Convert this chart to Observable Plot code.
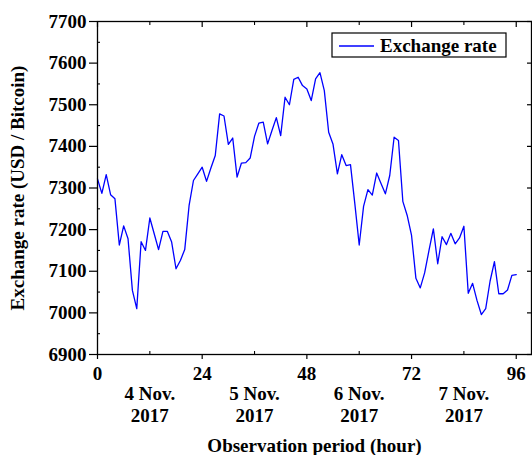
<!DOCTYPE html>
<html><head><meta charset="utf-8">
<script src="https://cdn.jsdelivr.net/npm/d3@7"></script>
<script src="https://cdn.jsdelivr.net/npm/@observablehq/plot@0.6"></script>
<style>
body{margin:0;background:#fff;}
#chart svg{display:block;}
</style>
</head><body><div id="chart"></div>
<script>
// Hourly exchange rate (USD / Bitcoin), hours 0..96
const rates = [
  7322, 7287, 7332, 7284, 7274, 7163, 7209, 7178, 7054, 7010,
  7171, 7150, 7228, 7190, 7152, 7196, 7196, 7170, 7106, 7126,
  7152, 7258, 7318, 7334, 7350, 7316, 7348, 7378, 7478, 7473,
  7405, 7420, 7326, 7360, 7361, 7372, 7424, 7456, 7458, 7406,
  7438, 7469, 7426, 7518, 7500, 7561, 7566, 7546, 7538, 7510,
  7562, 7577, 7534, 7434, 7405, 7334, 7380, 7354, 7356, 7262,
  7163, 7256, 7296, 7283, 7336, 7311, 7286, 7330, 7422, 7414,
  7268, 7234, 7186, 7083, 7060, 7096, 7150, 7202, 7118, 7183,
  7164, 7191, 7166, 7180, 7208, 7047, 7071, 7030, 6996, 7010,
  7076, 7123, 7046, 7046, 7055, 7090, 7092
];
const xTicks = [0, 24, 48, 72, 96];
const xMinorTicks = [12, 36, 60, 84];
const yTicks = [6900, 7000, 7100, 7200, 7300, 7400, 7500, 7600, 7700];
const yMinorTicks = [6950, 7050, 7150, 7250, 7350, 7450, 7550, 7650];
const dayCenters = [12, 36, 60, 84];
const dayLabels = ["4 Nov.\n2017", "5 Nov.\n2017", "6 Nov.\n2017", "7 Nov.\n2017"];
const seriesName = "Exchange rate";
const xTitle = "Observation period (hour)";
const yTitle = "Exchange rate (USD / Bitcoin)";

const data = rates.map((r, i) => ({hour: i, rate: r}));
const blank = () => "";

const plot = Plot.plot({
  width: 532,
  height: 455,
  marginLeft: 97,
  marginRight: 1,
  marginTop: 21,
  marginBottom: 101,
  style: {fontFamily: "'Liberation Serif', 'Times New Roman', serif", fontSize: "19px", fontWeight: "bold", background: "#fff", color: "#000", overflow: "visible"},
  x: {domain: [0, 99.5]},
  y: {domain: [6900, 7700]},
  marks: [
    Plot.line(data, {x: "hour", y: "rate", stroke: "#0000ff", strokeWidth: 1.3}),
    Plot.frame({stroke: "#000", strokeWidth: 1.3}),
    Plot.axisY(yTicks, {anchor: "left", tickSize: 8, tickPadding: 3, tickFormat: d => String(d), label: null, strokeWidth: 1.2}),
    Plot.axisY(yMinorTicks, {anchor: "left", tickSize: -3, tickFormat: blank, label: null, strokeWidth: 1.1}),
    Plot.axisY(yTicks, {anchor: "right", tickSize: -5, tickFormat: blank, label: null, strokeWidth: 1.2}),
    Plot.axisX(xTicks, {anchor: "bottom", tickSize: 5, tickPadding: 6.5, tickFormat: d => String(d), label: null, strokeWidth: 1.2}),
    Plot.axisX(xMinorTicks, {anchor: "bottom", tickSize: -3, tickFormat: blank, label: null, strokeWidth: 1.1}),
    Plot.axisX(xTicks, {anchor: "top", tickSize: -5, tickFormat: blank, label: null, strokeWidth: 1.2}),
    Plot.axisX(xMinorTicks, {anchor: "top", tickSize: -3, tickFormat: blank, label: null, strokeWidth: 1.1}),
    Plot.text(dayCenters, {x: d => d, text: (d, i) => dayLabels[i], frameAnchor: "bottom", lineAnchor: "top", dy: 30, lineHeight: 1.15, fill: "#000"}),
    Plot.text([xTitle], {text: d => d, frameAnchor: "bottom", lineAnchor: "middle", dy: 91, fill: "#000"}),
    Plot.text([yTitle], {text: d => d, frameAnchor: "left", rotate: -90, dx: -80, lineAnchor: "middle", textAnchor: "middle", fill: "#000"})
  ]
});

const svg = d3.select(plot);
const lg = svg.append("g").attr("class", "legend").attr("text-anchor", "start");
lg.append("rect").attr("x", 332).attr("y", 33).attr("width", 174).attr("height", 24)
  .attr("fill", "#fff").attr("stroke", "#000").attr("stroke-width", 1.2);
lg.append("line").attr("x1", 339).attr("x2", 374).attr("y1", 46).attr("y2", 46)
  .attr("stroke", "#0000ff").attr("stroke-width", 1.3);
lg.append("text").attr("x", 380).attr("y", 52).attr("text-anchor", "start").text(seriesName)
  .attr("fill", "#000").style("font-size", "19px").style("font-weight", "bold");

document.getElementById("chart").appendChild(plot);
</script>
</body></html>
